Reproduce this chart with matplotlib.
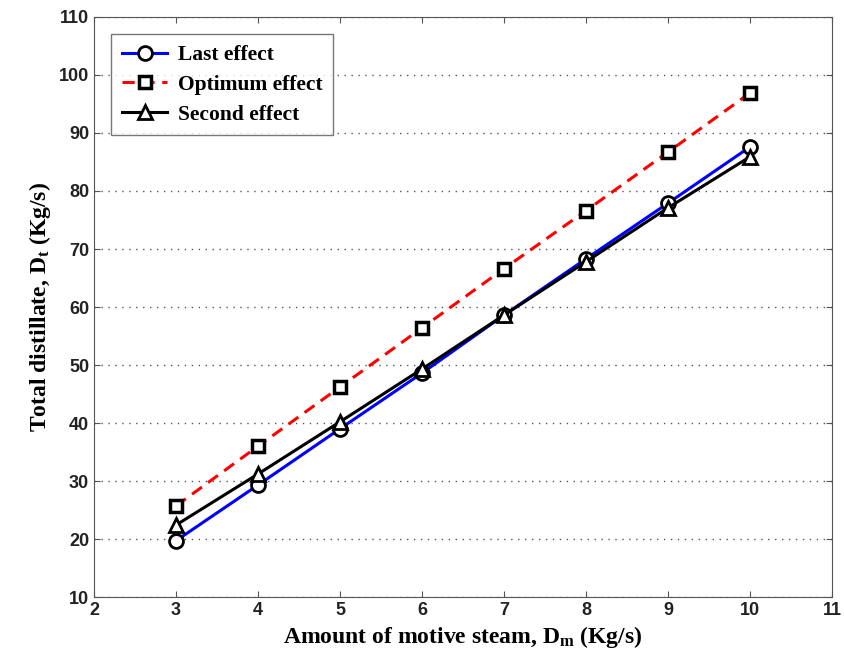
import matplotlib
matplotlib.use("Agg")
import matplotlib.pyplot as plt

x = [3, 4, 5, 6, 7, 8, 9, 10]
last_effect = [19.7, 29.3, 39.0, 48.6, 58.6, 68.3, 77.9, 87.6]
optimum_effect = [25.7, 36.0, 46.2, 56.4, 66.6, 76.6, 86.7, 96.9]
second_effect = [22.4, 31.2, 40.2, 49.3, 58.6, 67.8, 77.1, 85.9]

plt.rcParams['font.family'] = ['Liberation Serif', 'DejaVu Serif']
plt.rcParams['font.weight'] = 'bold'
plt.rcParams['mathtext.fontset'] = 'custom'
plt.rcParams['mathtext.rm'] = 'Liberation Serif:bold'
plt.rcParams['mathtext.bf'] = 'Liberation Serif:bold'
plt.rcParams['mathtext.it'] = 'Liberation Serif:bold'

fig = plt.figure(figsize=(8.45, 6.64), dpi=100)
ax = fig.add_axes([0.1112, 0.1009, 0.8734, 0.8735])

ax.plot(x, last_effect, '-', color='blue', lw=2.2, marker='o', ms=10,
        mfc='white', mec='black', mew=2, label='Last effect')
ax.plot(x, optimum_effect, '--', color='red', lw=2.2, marker='s', ms=9,
        mfc='white', mec='black', mew=2.5, label='Optimum effect', dashes=(4, 2.5))
ax.plot(x, second_effect, '-', color='black', lw=2.2, marker='^', ms=10,
        mfc='white', mec='black', mew=2, label='Second effect')

ax.set_xlim(2, 11)
ax.set_ylim(10, 110)
ax.set_xticks(range(2, 12))
ax.set_yticks(range(10, 111, 10))
ax.yaxis.grid(True, linestyle=(0, (1, 4)), color='#555555', lw=1)
ax.tick_params(direction='in', top=True, right=True, labelsize=13, length=4,
               color='#555555', labelcolor='#222222')
for s in ax.spines.values():
    s.set_color('#555555')
for lbl in ax.get_xticklabels() + ax.get_yticklabels():
    lbl.set_fontfamily(['Liberation Sans', 'DejaVu Sans'])
    lbl.set_fontweight('bold')

ax.set_xlabel('Amount of motive steam, D$_\\mathrm{m}$ (Kg/s)', fontsize=17, fontweight='bold')
ax.set_ylabel('Total distillate, D$_\\mathrm{t}$ (Kg/s)', fontsize=17, fontweight='bold')

leg = ax.legend(loc='upper left', frameon=True, fancybox=False,
                edgecolor='#555555', borderaxespad=0.8, handlelength=2.1,
                labelspacing=0.45, handletextpad=0.5, borderpad=0.5,
                prop={'weight': 'bold', 'size': 15.5})
leg.get_frame().set_linewidth(1)

fig.savefig('out.png', dpi=100)
